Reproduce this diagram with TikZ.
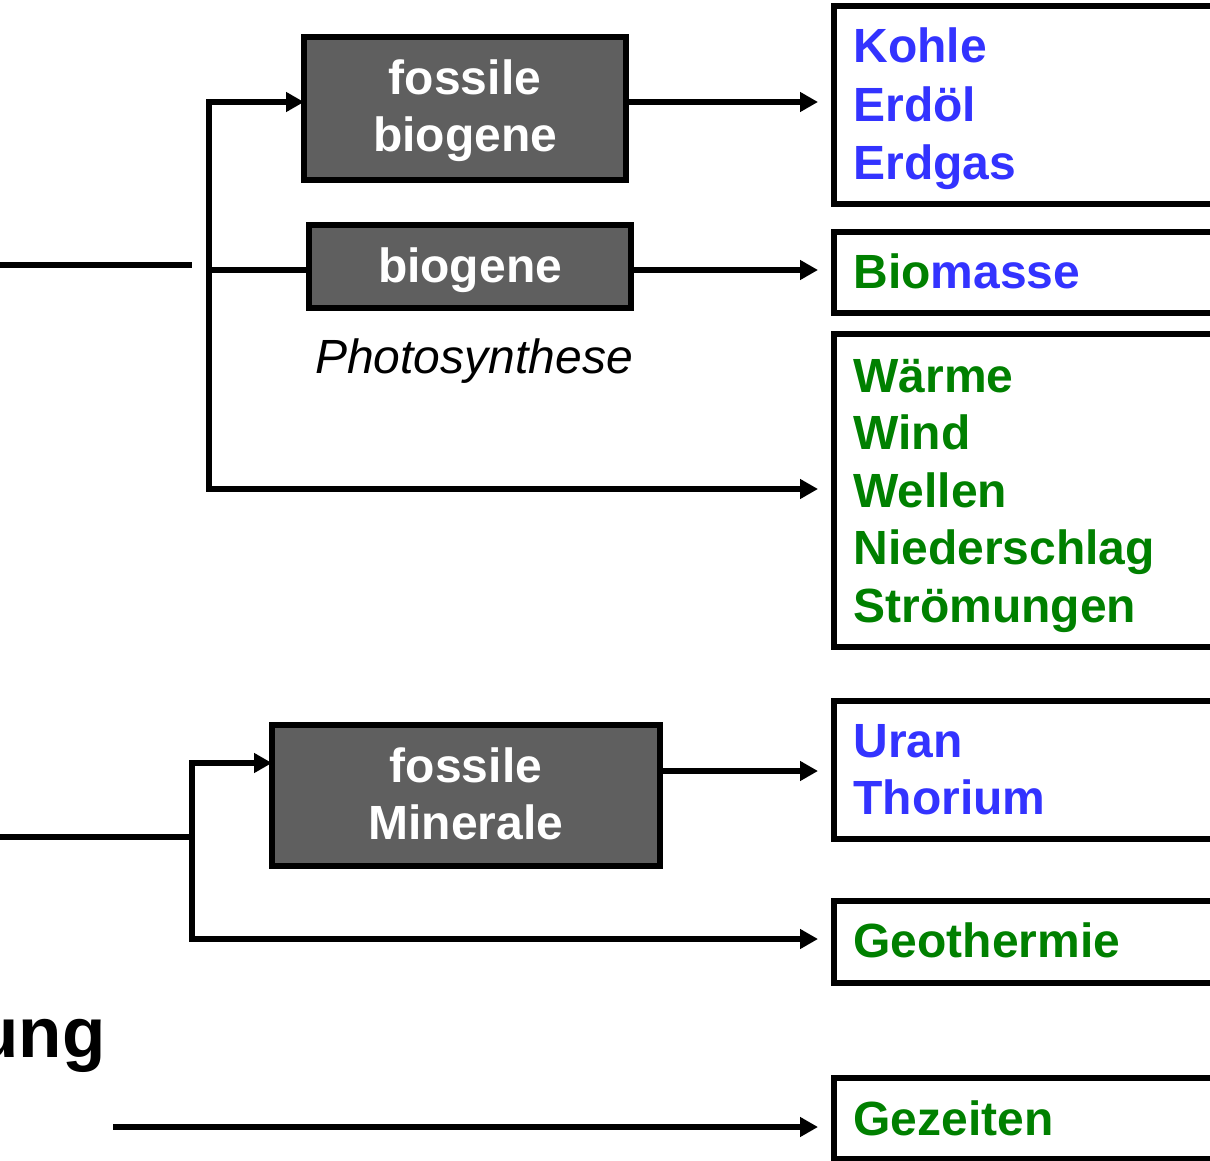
\documentclass[tikz,border=0pt]{standalone}
\usepackage{fontspec}
\setmainfont{Liberation Sans}
\usetikzlibrary{arrows.meta}
\definecolor{eblue}{RGB}{51,51,255}
\definecolor{egreen}{RGB}{0,128,0}
\definecolor{egray}{RGB}{95,95,95}
\begin{document}
\begin{tikzpicture}[x=0.5pt,y=-0.5pt,
  wire/.style={line width=2.9pt},
  arr/.style={line width=2.9pt,-{Triangle[length=9pt,width=9.5pt]},shorten >=8pt},
  graybox/.style={draw,line width=2.9pt,fill=egray,inner sep=0pt,outer sep=0pt},
  whitebox/.style={draw,line width=2.9pt,fill=white,inner sep=0pt,outer sep=0pt,minimum width=233pt},
  boxtext/.style={font=\fontsize{24}{29}\selectfont\bfseries,text=white,inner sep=0pt,anchor=base},
  itemtext/.style={font=\fontsize{24}{29}\selectfont\bfseries,inner sep=0pt,anchor=base west},
  blueitem/.style={itemtext,text=eblue},
  greenitem/.style={itemtext,text=egreen}]
\useasboundingbox (0,0) rectangle (1210,1161);

% source boxes
\node[graybox,minimum width=161pt,minimum height=71.5pt] (fb) at (465,108.5) {};
\node[graybox,minimum width=161pt,minimum height=41.5pt] (bg) at (470,266.5) {};
\node[graybox,minimum width=194pt,minimum height=70.5pt] (fm) at (466,795.5) {};
\node[boxtext] (fbA) at (465,95) {fossile};
\node[boxtext] (fbB) at (465,152) {biogene};
\node[boxtext] (bgA) at (470,282) {biogene};
\node[boxtext] (fmA) at (466,782) {fossile};
\node[boxtext] (fmB) at (466,839) {Minerale};
\node[font=\fontsize{24}{29}\selectfont\itshape,inner sep=0pt,anchor=base] (ps) at (474,373) {Photosynthese};

% carrier boxes on the right
\node[whitebox,minimum height=99pt] (r1) at (1067,105) {};
\node[whitebox,minimum height=40.5pt] (r2) at (1067,272.5) {};
\node[whitebox,minimum height=156.5pt] (r3) at (1067,490.5) {};
\node[whitebox,minimum height=69pt] (r4) at (1067,770) {};
\node[whitebox,minimum height=41pt] (r5) at (1067,942) {};
\node[whitebox,minimum height=40.5pt] (r6) at (1067,1118.5) {};

\node[blueitem] (t1) at (853,63) {Kohle};
\node[blueitem] (t2) at (853,121) {Erdöl};
\node[blueitem] (t3) at (853,179) {Erdgas};
\node[itemtext] (t4) at (853,288) {\textcolor{egreen}{Bio}\textcolor{eblue}{masse}};
\node[greenitem] (t5) at (853,392) {Wärme};
\node[greenitem] (t6) at (853,449) {Wind};
\node[greenitem] (t7) at (853,507) {Wellen};
\node[greenitem] (t8) at (853,564) {Niederschlag};
\node[greenitem] (t9) at (853,622) {Strömungen};
\node[blueitem] (t10) at (853,757) {Uran};
\node[blueitem] (t11) at (853,814) {Thorium};
\node[greenitem] (t12) at (853,957) {Geothermie};
\node[greenitem] (t13) at (853,1135) {Gezeiten};

\node[font=\fontsize{35.5}{40}\selectfont\bfseries,inner sep=0pt,anchor=base east] (ung) at (106,1057) {ung};

% upper branch
\coordinate (s1a) at (0,265);
\coordinate (s1b) at (192,265);
\coordinate (ja) at (209,102);
\coordinate (jb) at (209,270);
\coordinate (jc) at (209,489);
\draw[wire] (s1a) -- (s1b);
\draw[wire,line cap=rect] (ja) -- (jc);
\draw[arr,shorten >=0pt] (ja) -- (ja -| fb.west);
\draw[wire] (jb) -- (jb -| bg.west);
\draw[arr] (fb.east |- ja) -- (ja -| r1.west);
\draw[arr] (bg.east |- jb) -- (jb -| r2.west);
\draw[arr] (jc) -- (jc -| r3.west);

% lower branch
\coordinate (s2a) at (0,837);
\coordinate (kb) at (192,837);
\coordinate (ka) at (192,763);
\coordinate (kc) at (192,939);
\coordinate (km) at (661,771);
\draw[wire] (s2a) -- (kb);
\draw[wire,line cap=rect] (ka) -- (kc);
\draw[arr,shorten >=0pt] (ka) -- (ka -| fm.west);
\draw[arr] (km) -- (km -| r4.west);
\draw[arr] (kc) -- (kc -| r5.west);

% tides
\coordinate (g0) at (113,1127);
\draw[arr] (g0) -- (g0 -| r6.west);
\end{tikzpicture}
\end{document}
